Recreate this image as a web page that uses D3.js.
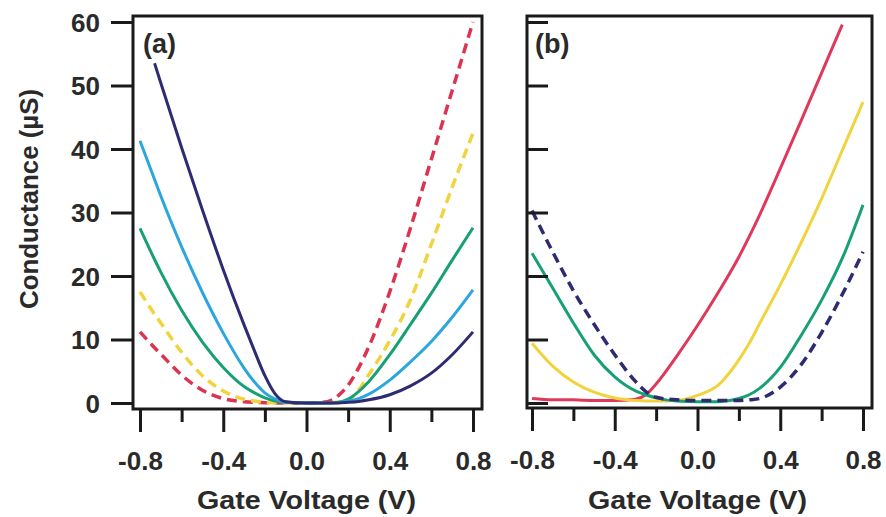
<!DOCTYPE html>
<html><head><meta charset="utf-8">
<script src="https://cdn.jsdelivr.net/npm/d3@7"></script>
<style>
body{margin:0;background:#fff}
text{font-family:"Liberation Sans",Arial,sans-serif;font-weight:bold;fill:#2a2a2a}
</style>
</head><body>
<svg id="c" width="886" height="517"></svg>
<script>
// ---------- data ----------
const gateA = [-0.8,-0.73,-0.7,-0.6,-0.5,-0.4,-0.3,-0.25,-0.2,-0.15,-0.1,0,0.1,0.15,0.2,0.25,0.3,0.4,0.5,0.6,0.7,0.8];
const navyA    = [null,53.5,50.4,40.2,30.4,21.0,12.3,8.2,4.3,1.4,0.2,0,0,0,0.1,0.25,0.5,1.3,2.7,4.7,7.6,11.2];
const blueA    = [41.3,35.2,32.6,24.6,17.4,11.0,5.5,3.3,1.6,0.6,0.1,0,0,0.05,0.3,0.7,1.4,3.6,6.5,9.7,13.5,17.8];
const greenA   = [27.5,22.6,20.6,14.6,9.6,5.6,2.6,1.6,0.8,0.3,0.1,0,0,0.1,0.6,1.8,3.4,7.6,12.4,17.3,22.5,27.6];
const yellowA  = [17.5,14.0,12.6,8.0,4.3,1.9,0.6,0.3,0.1,0,0,0,0,0.15,0.4,2.0,4.5,9.8,16.3,25.0,34.0,42.5];
const redA     = [11.2,8.7,7.7,4.4,2.0,0.7,0.2,0.1,0.05,0,0,0,0.2,1.1,2.8,5.5,8.9,17.5,27.6,38.4,49.2,60.0];

const gateB = [-0.8,-0.7,-0.6,-0.5,-0.4,-0.3,-0.25,-0.2,-0.1,0,0.1,0.2,0.25,0.3,0.4,0.5,0.6,0.7,0.8];
const redB    = [0.7,0.5,0.5,0.4,0.4,0.6,1.3,3.0,7.4,12.2,17.4,23.0,26.2,29.6,36.9,44.4,52.0,59.6,null];
const yellowB = [9.4,5.8,3.3,1.7,0.8,0.4,0.3,0.3,0.4,1.2,2.8,6.8,9.4,12.5,18.6,25.2,32.2,39.8,47.4];
const greenB  = [23.6,18.1,12.6,7.6,4.1,1.9,1.3,0.8,0.3,0.2,0.2,0.7,1.3,2.3,5.6,10.6,16.2,22.8,31.2];
const navyB   = [30.3,23.8,17.7,12.4,7.6,3.4,1.8,0.9,0.5,0.4,0.4,0.4,0.5,0.7,2.5,6.0,11.1,17.1,23.8];

const xMajor = [-0.8,-0.4,0,0.4,0.8];
const xMajorLabels = ["-0.8","-0.4","0.0","0.4","0.8"];
const xMinor = [-0.6,-0.2,0.2,0.6];
const yTicks = [0,10,20,30,40,50,60];
const yTickLabels = ["0","10","20","30","40","50","60"];

const colors = {navy:"#2e2b72", blue:"#2ba6de", green:"#17a074", yellow:"#f1d33e", red:"#dc3450", redB:"#e0385a"};

const seriesA = [
  {v:redA, c:colors.red, dash:true},
  {v:yellowA, c:colors.yellow, dash:true},
  {v:greenA, c:colors.green, dash:false},
  {v:blueA, c:colors.blue, dash:false},
  {v:navyA, c:colors.navy, dash:false}
];
const seriesB = [
  {v:redB, c:colors.redB, dash:false},
  {v:yellowB, c:colors.yellow, dash:false},
  {v:greenB, c:colors.green, dash:false},
  {v:navyB, c:colors.navy, dash:true}
];

// ---------- drawing ----------
const svg = d3.select("#c");
const y = d3.scaleLinear().domain([0,60]).range([403,22]);
const xA = d3.scaleLinear().domain([-0.8,0.8]).range([140,473]);
const xB = d3.scaleLinear().domain([-0.8,0.8]).range([532,863]);

function panel(x, gate, series, frame, labelY, label, labelX){
  const line = d3.line().defined(d=>d[1]!==null).x(d=>x(d[0])).y(d=>y(d[1])).curve(d3.curveMonotoneX);
  series.forEach(s=>{
    svg.append("path").datum(gate.map((g,i)=>[g,s.v[i]]))
      .attr("d",line).attr("fill","none").attr("stroke",s.c)
      .attr("stroke-width",s.dash?3.5:3)
      .attr("stroke-dasharray",s.dash?"10,6":null);
  });
  svg.append("rect").attr("x",frame[0]).attr("y",frame[1]).attr("width",frame[2]-frame[0]).attr("height",frame[3]-frame[1])
    .attr("fill","none").attr("stroke","#1a1a1a").attr("stroke-width",3);
  const gx = svg.append("g").attr("transform",`translate(0,${frame[3]})`)
    .call(d3.axisBottom(x).tickValues(xMajor).tickSize(23).tickFormat((d,i)=>xMajorLabels[i]));
  gx.select(".domain").remove();
  gx.selectAll("line").attr("stroke","#1a1a1a").attr("stroke-width",3);
  gx.selectAll("text").attr("y",61).attr("dy",0).style("font-size","26px").attr("fill","#2a2a2a");
  const gm = svg.append("g").attr("transform",`translate(0,${frame[3]})`)
    .call(d3.axisBottom(x).tickValues(xMinor).tickSize(13).tickFormat(""));
  gm.select(".domain").remove();
  gm.selectAll("line").attr("stroke","#1a1a1a").attr("stroke-width",3);
  svg.append("text").attr("x",x(0)).attr("y",509).attr("text-anchor","middle")
    .attr("textLength",219).attr("lengthAdjust","spacingAndGlyphs")
    .style("font-size","26px").text("Gate Voltage (V)");
  if (labelY){
    const gy = svg.append("g").attr("transform",`translate(${frame[0]},0)`)
      .call(d3.axisLeft(y).tickValues(yTicks).tickSize(22).tickFormat((d,i)=>yTickLabels[i]));
    gy.select(".domain").remove();
    gy.selectAll("line").attr("stroke","#1a1a1a").attr("stroke-width",3);
    gy.selectAll("text").attr("x",-33).attr("dy","0.36em").style("font-size","26px").attr("fill","#2a2a2a");
  } else {
    const gy = svg.append("g").attr("transform",`translate(${frame[0]},0)`)
      .call(d3.axisRight(y).tickValues(yTicks).tickSize(21).tickFormat(""));
    gy.select(".domain").remove();
    gy.selectAll("line").attr("stroke","#1a1a1a").attr("stroke-width",3);
  }
  svg.append("text").attr("x",labelX).attr("y",53).style("font-size","27px").text(label);
}

panel(xA, gateA, seriesA, [133,16,482,409], true, "(a)", 143);
panel(xB, gateB, seriesB, [527,16,872,408], false, "(b)", 535);

svg.append("text").attr("transform","translate(38,199) rotate(-90)").attr("text-anchor","middle")
  .attr("textLength",220).attr("lengthAdjust","spacingAndGlyphs")
  .style("font-size","26px").text("Conductance (\u00b5S)");
</script>
</body></html>
